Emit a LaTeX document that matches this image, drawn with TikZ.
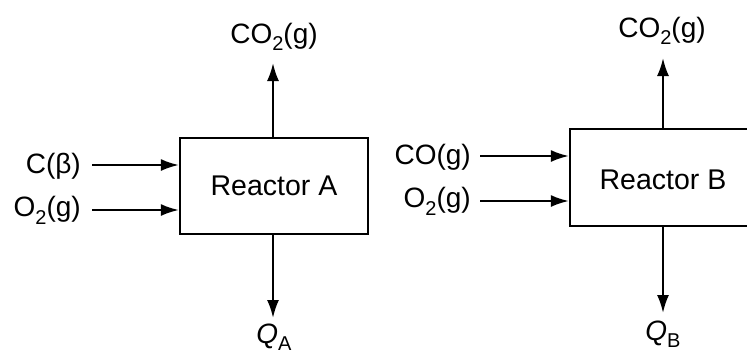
\documentclass[tikz,border=0pt]{standalone}
\usepackage{fontspec}
\setmainfont{Liberation Sans}
\usetikzlibrary{arrows.meta}
\newcommand{\subx}[1]{\raisebox{-0.28em}{\fontsize{20}{22}\selectfont #1}}
\begin{document}
\begin{tikzpicture}[x=1pt,y=-1pt,
  box/.style={draw,line width=2.2pt,inner sep=0pt,font=\fontsize{28.5}{32}\selectfont},
  lbl/.style={inner sep=0pt,font=\fontsize{28}{32}\selectfont},
  arr/.style={line width=2.2pt,-{Latex[length=18pt,width=12pt]}}]
\useasboundingbox (0,0) rectangle (747,354);
\clip (0,0) rectangle (747,354);
% Reactor A
\node[box,minimum width=188pt,minimum height=96pt] (boxA) at (274,186) {Reactor A};
\coordinate (a1) at (92,165);
\coordinate (a2) at (92,210);
\coordinate (aTop) at (273,63);
\coordinate (aBot) at (273,318);
\node[lbl,anchor=east] (la1) at (81,166) {C(β)};
\node[lbl,anchor=east] (la2) at (81,210) {O\subx{2}(g)};
\node[lbl,anchor=base] (laTop) at (274,43) {CO\subx{2}(g)};
\node[lbl,anchor=base] (laBot) at (274,343) {\textit{Q}\subx{A}};
\draw[arr] (a1) -- (a1 -| boxA.west);
\draw[arr] (a2) -- (a2 -| boxA.west);
\draw[arr] (boxA.north -| aTop) -- (aTop);
\draw[arr] (boxA.south -| aBot) -- (aBot);
% Reactor B
\node[box,minimum width=186pt,minimum height=97pt] (boxB) at (663,177.5) {};
\node[lbl,font=\fontsize{28.5}{32}\selectfont] (tB) at (663,180) {Reactor B};
\coordinate (b1) at (480,156);
\coordinate (b2) at (480,201);
\coordinate (bTop) at (663,58);
\coordinate (bBot) at (663,313);
\node[lbl,anchor=east] (lb1) at (471,157) {CO(g)};
\node[lbl,anchor=east] (lb2) at (471,201) {O\subx{2}(g)};
\node[lbl,anchor=base] (lbTop) at (662,37) {CO\subx{2}(g)};
\node[lbl,anchor=base] (lbBot) at (663,340) {\textit{Q}\subx{B}};
\draw[arr] (b1) -- (b1 -| boxB.west);
\draw[arr] (b2) -- (b2 -| boxB.west);
\draw[arr] (boxB.north -| bTop) -- (bTop);
\draw[arr] (boxB.south -| bBot) -- (bBot);
\end{tikzpicture}
\end{document}
